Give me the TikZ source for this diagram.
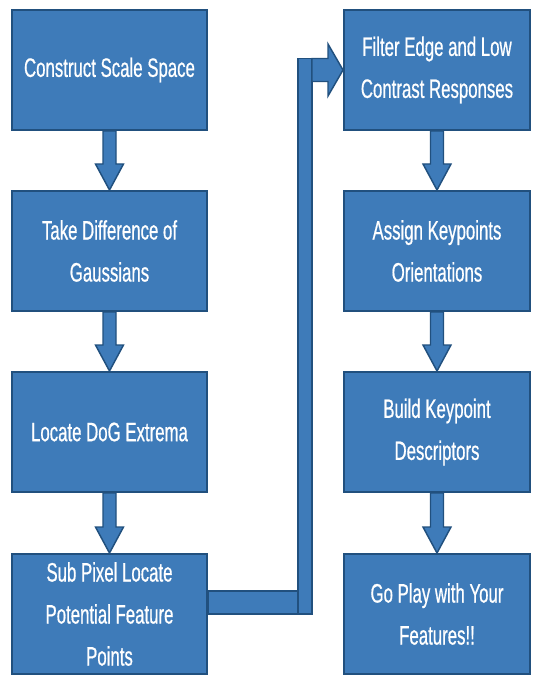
\documentclass[tikz,border=0pt]{standalone}
\usepackage{fontspec}
\setmainfont[FakeStretch=0.63, FakeBold=0.6]{Liberation Sans}
\usetikzlibrary{calc}
\definecolor{boxblue}{HTML}{3E7BB9}
\definecolor{edgeblue}{HTML}{21507E}
% freccia a blocco verticale tra due nodi
\newcommand{\blockdown}[2]{%
  \filldraw[arrowbody] ($(#1.south)+(-6.5,0)$) -- ($(#2.north)+(-6.5,-26)$)
    -- ($(#2.north)+(-14,-26)$) -- (#2.north) -- ($(#2.north)+(14,-26)$)
    -- ($(#2.north)+(6.5,-26)$) -- ($(#1.south)+(6.5,0)$) -- cycle;}
\begin{document}
\begin{tikzpicture}[x=0.75pt, y=-0.75pt,
    stepbox/.style={draw=edgeblue, line width=1.5pt, fill=boxblue, text=white,
      minimum height=90pt, align=center, inner sep=2pt,
      font=\fontsize{20}{31.5}\selectfont},
    leftbox/.style={stepbox, minimum width=146pt},
    rightbox/.style={stepbox, minimum width=139.5pt},
    arrowbody/.style={draw=edgeblue, line width=1.1pt, fill=boxblue, line join=miter}]
  \useasboundingbox (0,0) rectangle (533,677);
  % colonna sinistra
  \node[leftbox] (csp) at (109.5,70) {Construct Scale Space};
  \node[leftbox] (dog) at (109.5,251) {Take Difference of\\Gaussians};
  \node[leftbox] (ext) at (109.5,432) {Locate DoG Extrema};
  \node[leftbox] (spl) at (109.5,614) {Sub Pixel Locate\\Potential Feature\\Points};
  % colonna destra
  \node[rightbox] (flt) at (437,70) {Filter Edge and Low\\Contrast Responses};
  \node[rightbox] (ori) at (437,251) {Assign Keypoints\\Orientations};
  \node[rightbox] (des) at (437,432) {Build Keypoint\\Descriptors};
  \node[rightbox] (play) at (437,614) {Go Play with Your\\Features!!};
  % frecce verticali
  \blockdown{csp}{dog}
  \blockdown{dog}{ext}
  \blockdown{ext}{spl}
  \blockdown{flt}{ori}
  \blockdown{ori}{des}
  \blockdown{des}{play}
  % collegamento a gomito
  \coordinate (riser) at (305,0);
  \filldraw[arrowbody] ($(spl.east)+(0,-23)$) rectangle ($(riser |- spl.east)+(7,0)$);
  \filldraw[arrowbody] ($(riser |- flt.west)+(-7,-11.5)$) rectangle ($(riser |- spl.east)+(7,0)$);
  \filldraw[arrowbody] ($(riser |- flt.west)+(7,-11.5)$) -- ($(flt.west)+(-15,-11.5)$)
    -- ($(flt.west)+(-15,-26)$) -- (flt.west) -- ($(flt.west)+(-15,26)$)
    -- ($(flt.west)+(-15,11.5)$) -- ($(riser |- flt.west)+(7,11.5)$) -- cycle;
\end{tikzpicture}
\end{document}
